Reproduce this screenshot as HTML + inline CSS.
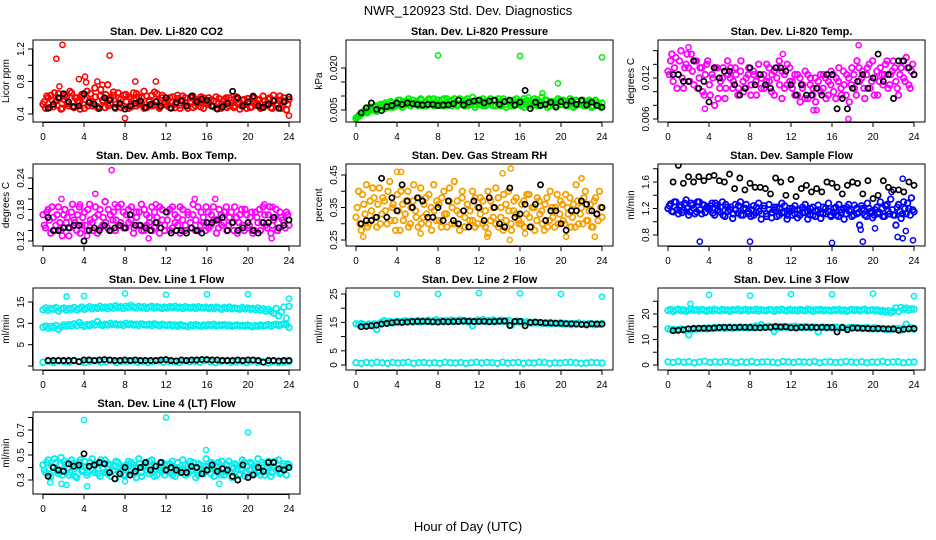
<!DOCTYPE html>
<html><head><meta charset="utf-8">
<style>
body{margin:0;background:#fff;}
svg{display:block;font-family:"Liberation Sans",sans-serif;}
</style></head>
<body>
<svg id="chart" width="936" height="540" viewBox="0 0 936 540" xmlns="http://www.w3.org/2000/svg">
<rect width="936" height="540" fill="#fff"/>
<text x="468" y="15" font-size="13" text-anchor="middle">NWR_120923 Std. Dev. Diagnostics</text>
<text x="468" y="531" font-size="13" text-anchor="middle">Hour of Day (UTC)</text>
</svg>
<script>
const xTicks=[0,4,8,12,16,20,24];
const co2Red=[0.52,0.47,0.6,0.63,0.49,0.56,0.65,0.46,0.58,0.61,0.5,0.66,0.48,0.6,0.54,0.64,0.47,0.68,0.56,0.5,0.72,0.49,0.62,0.57,0.48,0.76,0.53,0.63,0.47,0.66,0.58,0.5,0.64,0.47,0.59,0.66,0.5,0.61,0.54,0.68,0.48,0.57,0.63,0.51,0.65,0.47,0.6,0.55,0.57,0.48,0.61,0.52,0.59,0.47,0.62,0.54,0.5,0.6,0.48,0.57,0.53,0.61,0.47,0.56,0.6,0.5,0.56,0.47,0.59,0.52,0.58,0.48,0.6,0.53,0.5,0.58,0.46,0.57,0.52,0.59,0.48,0.6,0.51,0.57,0.47,0.62,0.52,0.58,0.48,0.63,0.51,0.57,0.47,0.6,0.45,0.58];
const co2Red2=[0.55,0.62,0.48,0.57,0.66,0.51,0.59,0.47,0.63,0.53,0.68,0.49,0.6,0.56,0.46,0.62,0.58,0.5,0.65,0.54,0.61,0.47,0.7,0.55,0.64,0.5,0.59,0.67,0.52,0.6,0.48,0.63,0.55,0.61,0.49,0.57,0.65,0.52,0.6,0.47,0.62,0.55,0.5,0.67,0.56,0.49,0.63,0.52,0.5,0.6,0.55,0.48,0.63,0.51,0.57,0.6,0.47,0.55,0.62,0.5,0.58,0.49,0.6,0.53,0.52,0.57,0.49,0.61,0.54,0.47,0.56,0.6,0.5,0.57,0.48,0.61,0.53,0.5,0.58,0.47,0.55,0.49,0.6,0.53,0.58,0.48,0.56,0.51,0.6,0.47,0.57,0.53,0.62,0.5,0.56,0.52];
const co2OutT=[1.3,1.9,6.5,4.1,3.5,5.3,1.6,9,11,8,24,4.2,5.8];
const co2OutV=[1.08,1.25,1.12,0.86,0.83,0.8,0.74,0.8,0.8,0.35,0.38,0.79,0.76];
const co2Blk=[0.47,0.52,0.6,0.65,0.55,0.49,0.5,0.65,0.54,0.52,0.47,0.6,0.57,0.48,0.53,0.46,0.5,0.53,0.56,0.48,0.52,0.55,0.5,0.6,0.47,0.54,0.56,0.5,0.62,0.55,0.58,0.57,0.5,0.46,0.49,0.53,0.68,0.6,0.5,0.55,0.62,0.5,0.48,0.52,0.56,0.47,0.55,0.61];
const prGrn=[0.002,0.003,0.0035,0.004,0.0045,0.005,0.0055,0.006,0.0045,0.006,0.0065,0.0055,0.007,0.006,0.0075,0.0065,0.007,0.0085,0.006,0.0075,0.008,0.0065,0.0085,0.007,0.0075,0.009,0.0065,0.008,0.0085,0.007,0.009,0.0075,0.0085,0.0065,0.009,0.0075,0.008,0.0065,0.009,0.007,0.0085,0.0075,0.0065,0.009,0.007,0.008,0.006,0.0085,0.007,0.009,0.0065,0.008,0.0075,0.0085,0.0065,0.009,0.007,0.008,0.006,0.0085,0.0075,0.0065,0.009,0.007,0.008,0.006,0.0085,0.007,0.0075,0.009,0.0065,0.008,0.007,0.0085,0.006,0.008,0.0075,0.0065,0.009,0.007,0.0085,0.0065,0.008,0.0075,0.006,0.0085,0.007,0.008,0.0065,0.0075,0.0085,0.006,0.008,0.007,0.0065,0.0075];
const prGrn2=[0.0025,0.003,0.004,0.005,0.004,0.006,0.005,0.0065,0.0055,0.007,0.006,0.0075,0.0065,0.008,0.006,0.0075,0.0085,0.0065,0.008,0.007,0.009,0.0065,0.0075,0.008,0.0065,0.0085,0.0075,0.0065,0.009,0.0075,0.0065,0.0085,0.007,0.0085,0.0065,0.009,0.007,0.0085,0.0075,0.0065,0.009,0.007,0.0085,0.0065,0.008,0.0095,0.007,0.0075,0.0085,0.0065,0.008,0.007,0.009,0.0065,0.0085,0.0075,0.0065,0.009,0.007,0.008,0.0065,0.0085,0.007,0.008,0.0065,0.009,0.007,0.008,0.0065,0.0075,0.0085,0.0065,0.0095,0.007,0.0085,0.0065,0.008,0.0075,0.0065,0.0085,0.007,0.008,0.0065,0.009,0.0075,0.0065,0.008,0.007,0.0085,0.0065,0.0075,0.008,0.0065,0.0085,0.007,0.006];
const prOutT=[8,16,24,19.7,18.2,16.8];
const prOutV=[0.0245,0.0243,0.0238,0.0145,0.011,0.0095];
const prBlk=[0.004,0.0058,0.0075,0.0052,0.0048,0.0062,0.0066,0.0075,0.007,0.0075,0.0072,0.007,0.0068,0.007,0.007,0.0066,0.0068,0.0068,0.0072,0.0085,0.0068,0.0078,0.0082,0.0085,0.0075,0.0082,0.0085,0.007,0.008,0.0085,0.0068,0.0078,0.012,0.0055,0.0078,0.0066,0.007,0.0078,0.006,0.008,0.0068,0.0082,0.007,0.0085,0.0068,0.0078,0.0066,0.006];
const tmpMag=[0.013,0.0145,0.0115,0.015,0.0125,0.016,0.0105,0.014,0.0135,0.0155,0.011,0.0145,0.012,0.0135,0.0095,0.014,0.011,0.0125,0.008,0.0135,0.0105,0.012,0.009,0.0145,0.012,0.0105,0.0135,0.0095,0.013,0.0115,0.0105,0.0125,0.0095,0.013,0.0115,0.014,0.0105,0.0125,0.0115,0.0135,0.01,0.013,0.012,0.0145,0.009,0.0125,0.011,0.0135,0.0115,0.0095,0.0125,0.0085,0.011,0.013,0.009,0.012,0.0105,0.0085,0.0115,0.01,0.0125,0.009,0.0115,0.013,0.01,0.012,0.0135,0.0095,0.011,0.0125,0.0085,0.0135,0.0105,0.0145,0.0115,0.013,0.009,0.0135,0.0105,0.0145,0.012,0.0095,0.0135,0.011,0.014,0.0105,0.0125,0.0145,0.0115,0.0095,0.0135,0.012,0.015,0.011,0.013,0.0125];
const tmpMag2=[0.0125,0.0155,0.0135,0.0105,0.0145,0.012,0.0135,0.0155,0.0115,0.013,0.0145,0.0105,0.0135,0.01,0.0125,0.0145,0.0095,0.012,0.0135,0.009,0.0115,0.0135,0.0105,0.0125,0.0135,0.0115,0.0125,0.0105,0.0145,0.01,0.012,0.0135,0.011,0.0125,0.0095,0.0125,0.012,0.0105,0.014,0.0115,0.0125,0.0095,0.0135,0.011,0.013,0.0105,0.014,0.0115,0.0105,0.0125,0.0095,0.012,0.0105,0.009,0.0125,0.011,0.0095,0.012,0.0105,0.0125,0.0105,0.012,0.0095,0.011,0.0125,0.009,0.0115,0.0105,0.013,0.0095,0.012,0.011,0.0125,0.0095,0.0135,0.012,0.0105,0.0125,0.014,0.0115,0.0095,0.013,0.0115,0.0125,0.0125,0.0145,0.011,0.013,0.0135,0.0105,0.0125,0.0145,0.0115,0.0135,0.0105,0.014];
const tmpOutT=[2,11.2,18.6,17.6,14.5,14.2,3.6];
const tmpOutV=[0.0165,0.0155,0.0168,0.006,0.0073,0.0073,0.0075];
const tmpBlk=[0.0125,0.0125,0.0115,0.0115,0.0145,0.0105,0.0115,0.0085,0.0135,0.012,0.013,0.013,0.011,0.0095,0.0105,0.0135,0.011,0.0125,0.011,0.0105,0.0135,0.0135,0.013,0.011,0.0095,0.011,0.0095,0.0095,0.0105,0.0095,0.0125,0.0125,0.0075,0.009,0.0075,0.0105,0.0115,0.0125,0.0105,0.012,0.0155,0.0115,0.0125,0.009,0.0145,0.0145,0.0135,0.0125];
const ambMag=[0.17,0.145,0.18,0.135,0.165,0.15,0.185,0.14,0.17,0.155,0.13,0.175,0.16,0.14,0.185,0.15,0.175,0.14,0.19,0.155,0.165,0.135,0.18,0.15,0.195,0.145,0.17,0.16,0.14,0.185,0.155,0.175,0.145,0.18,0.16,0.135,0.175,0.15,0.19,0.14,0.17,0.155,0.185,0.145,0.165,0.135,0.18,0.15,0.175,0.14,0.185,0.155,0.165,0.135,0.18,0.15,0.17,0.145,0.19,0.16,0.14,0.175,0.155,0.185,0.145,0.17,0.16,0.135,0.18,0.15,0.175,0.14,0.165,0.155,0.185,0.135,0.17,0.15,0.18,0.145,0.165,0.135,0.175,0.155,0.14,0.185,0.15,0.17,0.135,0.16,0.18,0.145,0.165,0.155,0.175,0.15];
const ambMag2=[0.15,0.175,0.16,0.185,0.14,0.17,0.155,0.13,0.18,0.165,0.145,0.19,0.155,0.17,0.135,0.165,0.15,0.18,0.16,0.14,0.185,0.17,0.145,0.165,0.155,0.18,0.14,0.175,0.16,0.15,0.19,0.145,0.17,0.155,0.185,0.145,0.165,0.175,0.14,0.18,0.15,0.165,0.14,0.175,0.155,0.185,0.16,0.14,0.16,0.18,0.145,0.17,0.15,0.185,0.16,0.14,0.175,0.155,0.17,0.14,0.185,0.15,0.165,0.14,0.175,0.15,0.185,0.16,0.145,0.17,0.155,0.185,0.15,0.175,0.14,0.165,0.155,0.18,0.14,0.17,0.15,0.175,0.14,0.165,0.18,0.155,0.17,0.145,0.185,0.15,0.165,0.14,0.175,0.16,0.145,0.17];
const ambOutT=[6.7,5.1,1.8,3.6,7,16.8,14.8,11,21.6,22.4,22.3,10.3,4.3];
const ambOutV=[0.255,0.21,0.2,0.19,0.19,0.2,0.2,0.19,0.19,0.185,0.125,0.125,0.13];
const ambBlk=[0.165,0.14,0.14,0.145,0.145,0.15,0.15,0.12,0.14,0.145,0.14,0.15,0.14,0.145,0.15,0.145,0.17,0.15,0.15,0.145,0.14,0.155,0.145,0.175,0.135,0.14,0.14,0.135,0.145,0.14,0.135,0.155,0.155,0.16,0.165,0.14,0.155,0.14,0.145,0.155,0.14,0.135,0.155,0.155,0.165,0.145,0.15,0.16];
const rhOr=[0.32,0.4,0.28,0.36,0.42,0.3,0.34,0.38,0.29,0.41,0.33,0.37,0.3,0.43,0.35,0.31,0.39,0.28,0.36,0.33,0.4,0.3,0.37,0.34,0.29,0.41,0.32,0.38,0.3,0.35,0.42,0.31,0.36,0.29,0.4,0.33,0.37,0.3,0.43,0.34,0.28,0.38,0.32,0.36,0.31,0.4,0.29,0.35,0.38,0.3,0.34,0.27,0.37,0.32,0.41,0.29,0.35,0.39,0.31,0.34,0.28,0.37,0.33,0.3,0.36,0.29,0.39,0.32,0.35,0.28,0.38,0.33,0.3,0.36,0.29,0.4,0.32,0.35,0.3,0.37,0.31,0.39,0.33,0.29,0.36,0.42,0.3,0.35,0.38,0.31,0.34,0.29,0.37,0.33,0.4,0.32];
const rhOr2=[0.35,0.3,0.39,0.33,0.29,0.37,0.41,0.32,0.36,0.3,0.38,0.34,0.4,0.31,0.36,0.28,0.34,0.4,0.31,0.37,0.29,0.35,0.42,0.32,0.38,0.3,0.36,0.33,0.39,0.28,0.34,0.37,0.31,0.38,0.33,0.29,0.41,0.35,0.3,0.37,0.33,0.4,0.29,0.36,0.34,0.31,0.38,0.3,0.33,0.37,0.29,0.4,0.31,0.35,0.3,0.38,0.32,0.28,0.36,0.4,0.3,0.34,0.38,0.31,0.3,0.37,0.33,0.39,0.29,0.35,0.31,0.37,0.34,0.28,0.38,0.31,0.35,0.29,0.39,0.33,0.36,0.3,0.35,0.38,0.32,0.29,0.37,0.33,0.3,0.4,0.31,0.36,0.29,0.38,0.31,0.35];
const rhOutT=[0.7,4,4.4,6.3,15.1,14.3,22,12.8,22,23.3,20.5,16.5,15];
const rhOutV=[0.26,0.46,0.46,0.27,0.47,0.455,0.44,0.26,0.44,0.26,0.26,0.27,0.25];
const rhBlk=[0.3,0.31,0.31,0.32,0.44,0.32,0.38,0.34,0.42,0.37,0.35,0.38,0.37,0.32,0.32,0.35,0.31,0.37,0.31,0.3,0.34,0.29,0.37,0.35,0.31,0.38,0.35,0.3,0.29,0.41,0.32,0.33,0.36,0.29,0.36,0.42,0.31,0.34,0.34,0.3,0.28,0.34,0.34,0.37,0.36,0.34,0.33,0.35];
const sfBlu=[1.2,1.27,1.15,1.3,1.12,1.25,1.18,1.33,1.1,1.28,1.2,1.15,1.3,1.12,1.25,1.22,1.18,1.28,1.1,1.24,1.15,1.3,1.08,1.22,1.18,1.05,1.26,1.13,1.3,1.1,1.2,1.16,1.08,1.24,1.14,1.28,1.04,1.2,1.12,1.26,1.06,1.18,1.22,1.1,1.28,1.14,1.04,1.2,1.1,1.24,1.06,1.18,1.14,1.26,1.04,1.2,1.1,1.16,1.25,1.05,1.22,1.12,1.28,1.08,1.2,1.1,1.26,1.14,1.04,1.22,1.16,1.08,1.25,1.12,0.95,1.2,1.1,1.28,1.15,1.06,1.18,1.12,1.3,1.08,1.24,1.16,1.34,1.1,0.95,1.26,1.05,1.3,1.12,1.2,1.36,1.15];
const sfBlu2=[1.24,1.16,1.3,1.18,1.22,1.14,1.28,1.2,1.15,1.25,1.12,1.3,1.18,1.26,1.14,1.2,1.24,1.13,1.28,1.18,1.22,1.1,1.26,1.16,1.22,1.12,1.18,1.24,1.1,1.2,1.26,1.12,1.18,1.1,1.22,1.16,1.12,1.24,1.08,1.18,1.14,1.22,1.08,1.2,1.14,1.24,1.1,1.16,1.2,1.12,1.18,1.1,1.22,1.14,1.16,1.1,1.22,1.08,1.18,1.14,1.12,1.2,1.16,1.1,1.14,1.22,1.08,1.18,1.2,1.12,1.26,1.18,1.1,1.2,1.14,1.24,1.18,1.08,1.2,1.16,1.1,1.22,1.14,1.2,1.08,1.26,1.12,1.18,1.1,1.22,1.16,1.12,1.2,1.28,1.1,1.18];
const sfOutT=[3.1,8,16,19,20.2,18.8,22.4,22.9,23.2,23.9,22.9,21.8];
const sfOutV=[0.7,0.7,0.68,0.7,0.9,0.88,0.77,0.75,0.86,0.72,1.65,1.45];
const sfBlk=[1.6,1.85,1.58,1.68,1.6,1.68,1.62,1.68,1.7,1.62,1.6,1.72,1.5,1.66,1.48,1.58,1.52,1.52,1.5,1.42,1.66,1.6,1.4,1.64,1.38,1.5,1.55,1.45,1.5,1.45,1.6,1.58,1.52,1.42,1.55,1.6,1.58,1.42,1.62,1.35,1.4,1.62,1.52,1.48,1.48,1.45,1.6,1.55];
const l1Up=[13.2,13.6,13.0,13.5,13.3,13.7,12.9,13.4,13.6,13.1,13.5,13.3,13.7,13.2,13.5,13.8,13.3,13.6,13.9,13.4,13.7,13.5,14.0,13.6,13.8,13.4,13.9,13.6,14.1,13.7,13.9,13.5,14.0,13.7,14.2,13.8,13.6,14.0,13.7,13.9,13.5,13.8,14.0,13.6,13.9,13.7,13.5,13.8,13.6,13.9,13.7,14.0,13.6,13.8,13.5,13.9,13.7,13.6,13.8,13.5,13.9,13.7,13.6,13.8,13.5,13.7,13.4,13.8,13.6,13.3,13.7,13.5,13.8,13.4,13.6,13.5,13.3,13.7,13.4,13.6,13.3,13.5,13.2,13.6,13.1,13.4,12.9,13.3,12.8,12.4,13.5,11.8,12.6,13.8,11.2,14.0];
const l1Mid=[9.1,9.4,8.9,9.3,9.0,9.5,8.6,9.2,9.6,9.3,9.7,9.4,9.9,9.5,10.2,9.6,9.3,9.7,9.5,9.9,9.6,10.4,9.7,9.5,9.8,9.6,10.0,9.7,9.9,9.6,9.8,9.5,10.0,9.7,9.9,9.6,9.8,9.5,9.9,9.7,9.6,9.8,9.5,9.9,9.7,9.4,9.8,9.6,9.5,9.7,9.4,9.6,9.3,9.7,9.5,9.4,9.2,9.6,9.4,9.7,9.5,9.3,9.6,9.4,9.7,9.5,9.8,9.4,9.6,9.5,9.7,9.4,9.6,9.3,9.5,9.6,9.4,9.5,9.3,9.6,9.4,9.2,9.5,9.3,9.6,9.4,9.5,9.7,9.3,9.6,9.8,9.5,9.7,9.9,9.6,9.0];
const l1Low=[0.9,1.1,0.8,1.2,1.0,0.9,1.3,1.0,0.8,1.1,1.2,0.9,1.0,1.3,0.8,1.1,1.0,1.2,0.9,1.1,0.8,1.0,1.2,0.9,1.1,1.0,0.8,1.2,1.0,1.1,0.9,1.3,1.0,0.8,1.1,1.2,0.9,1.0,1.1,0.8,1.2,0.9,1.0,0.7,1.1,0.8,0.9,1.0];
const l1OutT=[2.3,4,8,12,16,20,24];
const l1OutV=[16.3,16.4,17,16.7,16.8,16.8,15.8];
const l1Blk=[1.3,1.3,1.3,1.3,1.3,1.3,1.0,1.4,1.4,1.3,1.4,1.5,1.4,1.3,1.3,1.4,1.3,1.4,1.3,1.3,1.3,1.3,1.4,1.5,1.3,1.2,1.4,1.3,1.4,1.4,1.5,1.5,1.4,1.4,1.3,1.3,1.3,1.4,1.3,1.4,1.4,1.3,0.9,1.3,1.3,1.2,1.3,1.3];
const l2Up=[14.5,14.2,14.6,14.3,14.0,14.4,14.1,14.5,12.5,14.6,15.2,15.6,15.0,15.3,14.8,15.1,15.4,15.0,15.3,15.6,15.2,15.5,15.0,15.4,15.7,15.1,15.5,15.3,15.8,15.2,15.5,15.9,15.3,15.6,15.2,15.7,15.4,15.8,15.3,15.6,15.9,15.4,15.7,15.2,15.6,13.8,15.4,15.8,15.5,16.0,15.3,15.7,15.4,15.9,15.2,15.6,15.8,15.3,15.5,15.7,14.0,15.2,15.5,15.1,15.3,14.9,15.2,15.0,14.7,15.1,14.8,15.0,14.6,14.9,14.7,15.0,14.5,14.8,14.6,14.9,14.4,14.7,14.5,14.2,14.6,14.4,14.8,14.3,14.5,14.1,14.6,14.4,14.2,14.5,14.3,14.6];
const l2Low=[0.8,0.6,0.9,0.7,1.0,0.8,0.6,0.9,0.7,0.8,1.0,0.6,0.8,0.9,0.7,0.8,0.6,1.0,0.8,0.7,0.9,0.6,0.8,1.0,0.7,0.9,0.8,0.6,1.0,0.7,0.8,0.9,0.6,0.8,0.7,1.0,0.9,0.6,0.8,0.7,0.9,1.0,0.8,0.6,0.7,0.9,0.8,0.7];
const l2OutT=[4,8,12,16,20,24];
const l2OutV=[25,25,25.3,25.2,25,24];
const l2Blk=[13.5,13.6,13.8,14.0,14.4,14.6,14.9,15.1,15.0,15.1,15.3,15.3,15.4,15.3,15.2,15.1,15.3,15.2,15.3,15.3,15.5,15.4,15.3,15.3,15.4,15.2,15.3,15.4,15.5,13.9,15.3,15.4,13.8,15.0,15.1,15.0,14.8,14.8,14.7,14.7,14.5,14.5,14.4,14.3,14.2,14.5,14.4,14.4];
const l3Up=[21.4,21.8,21.0,21.6,21.9,21.3,21.7,21.1,21.5,22.0,21.4,21.7,21.2,21.8,21.5,21.1,21.7,21.3,21.9,21.5,21.2,21.8,21.4,21.6,21.1,21.7,21.5,21.9,21.3,21.6,21.8,21.2,21.6,21.4,21.9,21.2,21.7,21.5,21.3,21.8,21.6,21.1,21.7,21.4,21.9,21.5,21.2,21.8,21.4,21.6,21.2,21.8,21.5,21.3,21.9,21.6,21.1,21.7,21.4,21.8,21.3,21.6,21.5,21.2,21.7,21.4,21.8,21.3,21.6,21.1,21.5,21.8,21.4,21.7,21.2,21.6,21.9,21.3,21.5,21.7,21.2,21.6,21.0,21.4,20.8,21.3,20.5,21.1,22.4,21.0,22.6,21.8,22.3,21.5,22.0,21.9];
const l3Mid=[14.2,13.8,14.0,13.6,13.9,14.1,13.7,14.0,11.8,13.9,14.3,14.0,14.4,14.2,14.5,14.1,14.6,14.3,14.7,14.4,14.5,14.8,14.3,14.6,14.9,14.4,14.7,14.5,15.0,14.6,14.8,14.5,15.0,14.7,15.3,14.9,15.8,15.1,14.8,15.2,14.9,13.2,14.6,15.0,14.8,15.1,14.7,15.0,14.9,15.2,14.8,15.0,14.7,15.1,14.9,14.6,15.0,14.8,13.0,14.7,14.9,14.6,14.8,14.5,14.7,14.9,14.4,14.8,14.6,14.3,14.7,14.5,14.8,14.4,14.6,14.3,14.5,14.7,14.2,14.4,14.6,14.1,14.4,14.3,13.9,14.2,14.0,14.4,14.1,14.3,13.8,14.5,16.0,14.2,14.6,14.0];
const l3Low=[1.2,1.0,1.4,1.1,1.3,0.9,1.2,1.5,1.0,1.3,1.1,1.4,1.2,0.9,1.3,1.1,1.4,1.0,1.2,1.3,1.1,0.9,1.4,1.2,1.0,1.3,1.2,1.1,1.4,0.9,1.2,1.3,1.0,1.1,1.4,1.2,1.0,1.3,0.9,1.2,1.1,1.4,1.0,1.2,1.3,0.9,1.1,1.2];
const l3OutT=[2.2,4,8,12,16,20,24];
const l3OutV=[24,27.5,27.2,27.8,27.7,28,27];
const l3Blk=[13.5,13.6,13.8,14.2,14.3,14.4,14.4,14.4,14.5,14.7,14.8,14.7,14.7,14.8,14.8,14.7,14.6,14.6,14.7,14.8,15.1,14.9,15.0,14.6,14.5,14.8,14.8,14.8,14.7,14.8,14.7,14.8,13.0,14.7,13.8,14.5,14.5,14.4,14.3,14.2,14.3,14.2,14.1,14.1,13.6,14.0,14.2,14.3];
const l4Cy=[0.42,0.36,0.46,0.33,0.4,0.44,0.35,0.48,0.38,0.43,0.34,0.46,0.39,0.32,0.44,0.37,0.45,0.34,0.41,0.47,0.36,0.43,0.33,0.4,0.46,0.35,0.42,0.38,0.31,0.44,0.37,0.41,0.34,0.45,0.38,0.42,0.32,0.47,0.36,0.4,0.43,0.35,0.46,0.33,0.41,0.38,0.44,0.34,0.42,0.36,0.45,0.33,0.4,0.38,0.46,0.34,0.41,0.37,0.44,0.32,0.43,0.39,0.35,0.47,0.38,0.44,0.33,0.41,0.36,0.45,0.34,0.42,0.37,0.32,0.43,0.39,0.35,0.46,0.33,0.41,0.44,0.35,0.4,0.47,0.34,0.42,0.37,0.45,0.33,0.41,0.38,0.46,0.36,0.43,0.34,0.42];
const l4Cy2=[0.38,0.44,0.35,0.41,0.47,0.37,0.42,0.34,0.45,0.39,0.36,0.43,0.33,0.41,0.46,0.38,0.4,0.36,0.44,0.38,0.42,0.35,0.46,0.39,0.36,0.43,0.33,0.41,0.45,0.37,0.4,0.34,0.42,0.37,0.44,0.35,0.4,0.43,0.33,0.41,0.38,0.45,0.36,0.42,0.34,0.4,0.37,0.43,0.37,0.43,0.34,0.4,0.44,0.36,0.39,0.42,0.35,0.45,0.38,0.4,0.34,0.42,0.37,0.41,0.41,0.35,0.43,0.38,0.44,0.34,0.4,0.37,0.45,0.36,0.4,0.42,0.34,0.39,0.44,0.36,0.38,0.43,0.35,0.41,0.37,0.44,0.34,0.4,0.42,0.36,0.45,0.38,0.35,0.41,0.39,0.43];
const l4OutT=[4,12,20,1.8,2.3,4.3,17.2,15.9,0.7,8];
const l4OutV=[0.78,0.8,0.68,0.27,0.26,0.25,0.27,0.54,0.28,0.29];
const l4Blk=[0.33,0.4,0.38,0.37,0.43,0.41,0.42,0.51,0.41,0.42,0.44,0.43,0.36,0.31,0.35,0.4,0.34,0.37,0.4,0.44,0.38,0.41,0.44,0.38,0.4,0.38,0.36,0.36,0.41,0.4,0.35,0.38,0.42,0.37,0.39,0.38,0.33,0.3,0.42,0.32,0.34,0.4,0.37,0.44,0.44,0.39,0.38,0.4];

const NS="http://www.w3.org/2000/svg";
const svg=document.getElementById('chart');
const colL=[33,346,658], rowT=[40,164,288,412], BW=267, BH=82;
function mk(tag,attrs,parent){const e=document.createElementNS(NS,tag);for(const k in attrs)e.setAttribute(k,attrs[k]);(parent||svg).appendChild(e);return e;}

const panels=[
 {key:'co2',title:'Stan. Dev. Li-820 CO2',yl:'Licor ppm',c:0,r:0,v1:0.4,p1:114,v2:1.2,p2:49,ticks:[0.4,0.6,0.8,1.0,1.2],labels:[0.4,0.8,1.2],dec:1,col:'#ff0000',clouds:[[co2Red,0],[co2Red2,0.5]],oT:co2OutT,oV:co2OutV,blk:co2Blk},
 {key:'pressure',title:'Stan. Dev. Li-820 Pressure',yl:'kPa',c:1,r:0,v1:0.005,p1:110,v2:0.020,p2:68,ticks:[0.005,0.010,0.015,0.020],labels:[0.005,0.020],dec:3,col:'#00ee00',clouds:[[prGrn,0],[prGrn2,0.5]],oT:prOutT,oV:prOutV,blk:prBlk},
 {key:'temp',title:'Stan. Dev. Li-820 Temp.',yl:'degrees C',c:2,r:0,v1:0.006,p1:119,v2:0.012,p2:78,ticks:[0.006,0.008,0.010,0.012,0.014,0.016],labels:[0.006,0.012],dec:3,col:'#ff00ff',clouds:[[tmpMag,0],[tmpMag2,0.5]],oT:tmpOutT,oV:tmpOutV,blk:tmpBlk},
 {key:'ambtemp',title:'Stan. Dev. Amb. Box Temp.',yl:'degrees C',c:0,r:1,v1:0.12,p1:241,v2:0.24,p2:178,ticks:[0.12,0.14,0.16,0.18,0.20,0.22,0.24],labels:[0.12,0.18,0.24],dec:2,col:'#ff00ff',clouds:[[ambMag,0],[ambMag2,0.5]],oT:ambOutT,oV:ambOutV,blk:ambBlk},
 {key:'rh',title:'Stan. Dev. Gas Stream RH',yl:'percent',c:1,r:1,v1:0.25,p1:240,v2:0.45,p2:175,ticks:[0.25,0.30,0.35,0.40,0.45],labels:[0.25,0.35,0.45],dec:2,col:'#f5a000',clouds:[[rhOr,0],[rhOr2,0.5]],oT:rhOutT,oV:rhOutV,blk:rhBlk},
 {key:'sampleflow',title:'Stan. Dev. Sample Flow',yl:'ml/min',c:2,r:1,v1:0.8,p1:235,v2:1.6,p2:182,ticks:[0.8,1.0,1.2,1.4,1.6,1.8],labels:[0.8,1.2,1.6],dec:1,col:'#0000ff',clouds:[[sfBlu,0],[sfBlu2,0.5]],oT:sfOutT,oV:sfOutV,blk:sfBlk},
 {key:'line1',title:'Stan. Dev. Line 1 Flow',yl:'ml/min',c:0,r:2,v1:0,p1:366,v2:15,p2:302,ticks:[0,5,10,15],labels:[5,10,15],dec:0,col:'#00eeee',clouds:[[l1Up,0],[l1Mid,0],[l1Low,0]],oT:l1OutT,oV:l1OutV,blk:l1Blk},
 {key:'line2',title:'Stan. Dev. Line 2 Flow',yl:'ml/min',c:1,r:2,v1:0,p1:365,v2:25,p2:294,ticks:[0,5,10,15,20,25],labels:[0,5,15,25],dec:0,col:'#00eeee',clouds:[[l2Up,0],[l2Low,0]],oT:l2OutT,oV:l2OutV,blk:l2Blk},
 {key:'line3',title:'Stan. Dev. Line 3 Flow',yl:'ml/min',c:2,r:2,v1:0,p1:365,v2:20,p2:314,ticks:[0,5,10,15,20,25],labels:[0,10,20],dec:0,col:'#00eeee',clouds:[[l3Up,0],[l3Mid,0],[l3Low,0]],oT:l3OutT,oV:l3OutV,blk:l3Blk},
 {key:'line4',title:'Stan. Dev. Line 4 (LT) Flow',yl:'ml/min',c:0,r:3,v1:0.3,p1:480,v2:0.7,p2:430,ticks:[0.3,0.4,0.5,0.6,0.7,0.8],labels:[0.3,0.5,0.7],dec:1,col:'#00eeee',clouds:[[l4Cy,0],[l4Cy2,0.5]],oT:l4OutT,oV:l4OutV,blk:l4Blk}
];

panels.forEach(p=>{
  const L=colL[p.c], T=rowT[p.r];
  const g=mk('g',{});
  
  
  const xs=t=>L+10+t*246/24;
  const ys=v=>p.p1+(v-p.v1)*(p.p2-p.p1)/(p.v2-p.v1);
  const clip='clip-'+p.key;
  const cp=mk('clipPath',{id:clip},g);
  mk('rect',{x:L,y:T,width:BW,height:BH},cp);
  const pts=mk('g',{'clip-path':'url(#'+clip+')',fill:'none','stroke-width':'1.8'},g);
  
  
  p.clouds.forEach(cl=>{
    const arr=cl[0], off=cl[1], n=arr.length;
    arr.forEach((v,i)=>{
      const t=off?(i+off)*24/n:i*24/(n-1);
      const c=mk('circle',{cx:xs(t).toFixed(1),cy:ys(v).toFixed(1),r:2.8,stroke:p.col},pts);
      
      
    });
  });
  p.oT.forEach((t,i)=>{
    const c=mk('circle',{cx:xs(t).toFixed(1),cy:ys(p.oV[i]).toFixed(1),r:2.6,stroke:p.col,'stroke-width':1.5},pts);
    
    
  });
  p.blk.forEach((v,i)=>{
    const c=mk('circle',{cx:xs(0.5+i*0.5).toFixed(1),cy:ys(v).toFixed(1),r:2.6,stroke:'#000','stroke-width':1.7},pts);
    
    
  });
  const box=mk('rect',{x:L,y:T,width:BW,height:BH,fill:'none',stroke:'#000','stroke-width':1},g);
  
  
  const tt=mk('text',{x:L+BW/2,y:T-5,'font-size':'11','font-weight':'bold','text-anchor':'middle'},g);
  tt.textContent=p.title;
  
  
  const B=T+BH;
  mk('line',{x1:xs(0),x2:xs(24),y1:B+0.5,y2:B+0.5,stroke:'#000'},g);
  xTicks.forEach(t=>{
    mk('line',{x1:xs(t),x2:xs(t),y1:B,y2:B+5,stroke:'#000'},g);
    const lb=mk('text',{x:xs(t),y:B+18,'font-size':'10','text-anchor':'middle'},g);
    lb.textContent=t;
    
    
  });
  mk('line',{x1:L-0.5,x2:L-0.5,y1:ys(p.ticks[0]),y2:ys(p.ticks[p.ticks.length-1]),stroke:'#000'},g);
  p.ticks.forEach(v=>{
    mk('line',{x1:L-5,x2:L,y1:ys(v),y2:ys(v),stroke:'#000'},g);
  });
  p.labels.forEach(v=>{
    const y=ys(v);
    const lb=mk('text',{x:L-9,y:y,'font-size':'10','text-anchor':'middle',transform:'rotate(-90 '+(L-9)+' '+y+')'},g);
    lb.textContent=v.toFixed(p.dec);
    
    
  });
  const yc=T+BH/2, xl=L-24;
  const yt=mk('text',{x:xl,y:yc,'font-size':'10','text-anchor':'middle',transform:'rotate(-90 '+xl+' '+yc+')'},g);
  yt.textContent=p.yl;
  
  
});
</script>
</body></html>
